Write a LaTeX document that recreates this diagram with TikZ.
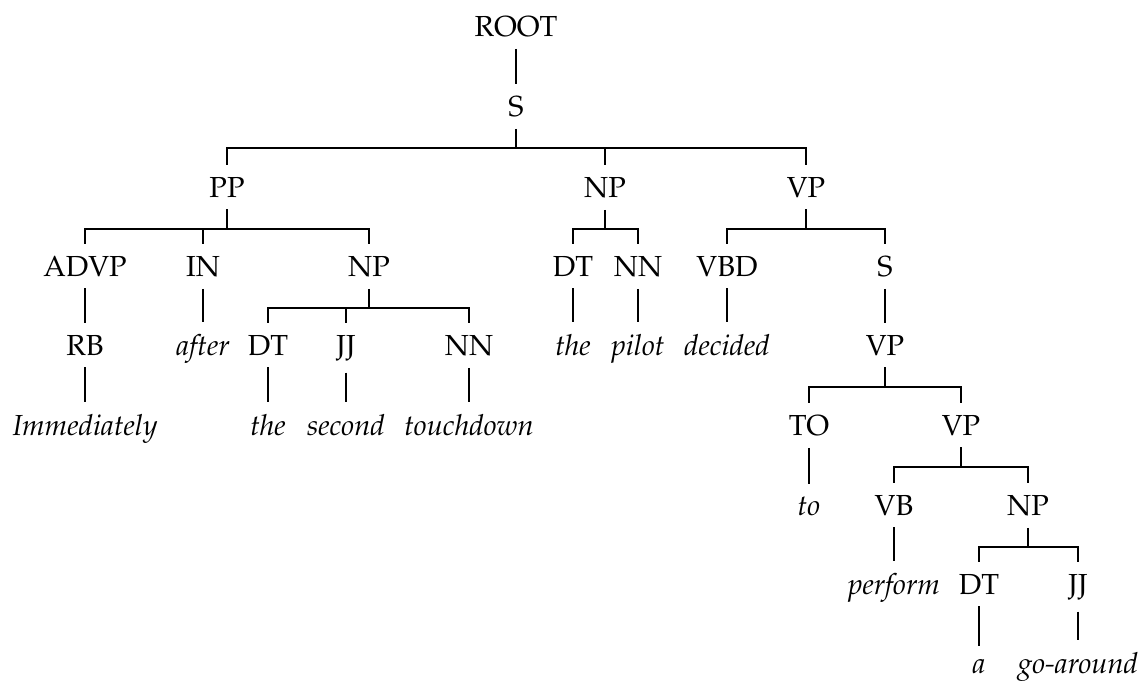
\documentclass[tikz,border=0pt]{standalone}
\usepackage[T1]{fontenc}
\usepackage{mathpazo}
\usetikzlibrary{calc}

\tikzset{
  cat/.style={anchor=base, inner xsep=0pt, inner ysep=12pt,
              font=\fontsize{29}{34}\selectfont},
  word/.style={cat, font=\fontsize{29}{34}\selectfont\itshape},
  branch/.style={line width=2pt},
}

% fork from a parent to its children via a horizontal bar 32pt below the parent's baseline
\newcommand{\forkto}[2]{%
  \draw[branch] (#1.south) -- ($(#1.base)+(0,32)$);
  \foreach \c in {#2} {\draw[branch] (\c.north) |- ($(#1.base)+(0,32)$);}%
}

\begin{document}
\begin{tikzpicture}[x=1pt,y=-1pt]
\useasboundingbox (0,0) rectangle (1139,680);

% level 0-2
\node[cat] (root) at (516,36) {ROOT};
\node[cat] (s) at (516,116) {S};
\node[cat] (pp) at (227,197) {PP};
\node[cat] (np) at (605,197) {NP};
\node[cat] (vp) at (806,197) {VP};

% level 3
\node[cat] (advp) at (85,276) {ADVP};
\node[cat] (in) at (203,276) {IN};
\node[cat] (npa) at (369,276) {NP};
\node[cat] (dta) at (573,276) {DT};
\node[cat] (nna) at (638,276) {NN};
\node[cat] (vbd) at (727,276) {VBD};
\node[cat] (sb) at (885,276) {S};

% level 4
\node[cat] (rb) at (85,355) {RB};
\node[word] (wafter) at (203,355) {after};
\node[cat] (dtb) at (268,355) {DT};
\node[cat] (jjb) at (346,355) {JJ};
\node[cat] (nnb) at (469,355) {NN};
\node[word] (wthe) at (573,355) {the};
\node[word] (wpilot) at (638,355) {pilot};
\node[word] (wdecided) at (727,355) {decided};
\node[cat] (vpb) at (885,355) {VP};

% level 5
\node[word] (wimm) at (85,435) {Immediately};
\node[word] (wtheb) at (268,435) {the};
\node[word] (wsecond) at (346,435) {second};
\node[word] (wtouch) at (469,435) {touchdown};
\node[cat] (to) at (809,435) {TO};
\node[cat] (vpc) at (961,435) {VP};

% level 6
\node[word] (wto) at (809,515) {to};
\node[cat] (vb) at (894,515) {VB};
\node[cat] (npc) at (1028,515) {NP};

% level 7
\node[word] (wperform) at (894,594) {perform};
\node[cat] (dtc) at (979,594) {DT};
\node[cat] (jjc) at (1078,594) {JJ};

% level 8
\node[word] (wa) at (979,673) {a};
\node[word] (wgo) at (1078,673) {go-around};

% unary branches
\foreach \p/\c in {root/s, advp/rb, rb/wimm, in/wafter, dtb/wtheb, jjb/wsecond,
                   nnb/wtouch, dta/wthe, nna/wpilot, vbd/wdecided, sb/vpb,
                   to/wto, vb/wperform, dtc/wa, jjc/wgo}
  \draw[branch] (\p.south) -- (\c.north);

% branching nodes
\forkto{s}{pp,np,vp}
\forkto{pp}{advp,in,npa}
\forkto{np}{dta,nna}
\forkto{vp}{vbd,sb}
\forkto{npa}{dtb,jjb,nnb}
\forkto{vpb}{to,vpc}
\forkto{vpc}{vb,npc}
\forkto{npc}{dtc,jjc}
\end{tikzpicture}
\end{document}
